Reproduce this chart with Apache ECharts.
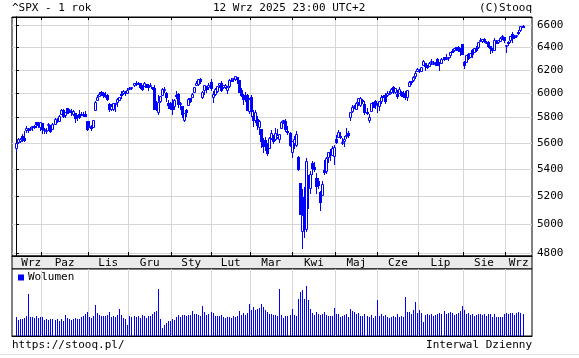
<!DOCTYPE html>
<html><head><meta charset="utf-8">
<script src="https://cdn.jsdelivr.net/npm/echarts@6/dist/echarts.min.js"></script>
<style>html,body{margin:0;padding:0;background:#fff}#c{width:579px;height:358px}</style>
</head><body><div id="c"></div>
<script>
const dates = [
'2024-09-12','2024-09-13','2024-09-16','2024-09-17','2024-09-18','2024-09-19','2024-09-20','2024-09-23','2024-09-24','2024-09-25','2024-09-26','2024-09-27','2024-09-30',
'2024-10-01','2024-10-02','2024-10-03','2024-10-04','2024-10-07','2024-10-08','2024-10-09','2024-10-10','2024-10-11','2024-10-14','2024-10-15','2024-10-16','2024-10-17','2024-10-18','2024-10-21','2024-10-22','2024-10-23','2024-10-24','2024-10-25','2024-10-28','2024-10-29','2024-10-30','2024-10-31',
'2024-11-01','2024-11-04','2024-11-05','2024-11-06','2024-11-07','2024-11-08','2024-11-11','2024-11-12','2024-11-13','2024-11-14','2024-11-15','2024-11-18','2024-11-19','2024-11-20','2024-11-21','2024-11-22','2024-11-25','2024-11-26','2024-11-27','2024-11-29',
'2024-12-02','2024-12-03','2024-12-04','2024-12-05','2024-12-06','2024-12-09','2024-12-10','2024-12-11','2024-12-12','2024-12-13','2024-12-16','2024-12-17','2024-12-18','2024-12-19','2024-12-20','2024-12-23','2024-12-24','2024-12-26','2024-12-27','2024-12-30','2024-12-31',
'2025-01-02','2025-01-03','2025-01-06','2025-01-07','2025-01-08','2025-01-10','2025-01-13','2025-01-14','2025-01-15','2025-01-16','2025-01-17','2025-01-21','2025-01-22','2025-01-23','2025-01-24','2025-01-27','2025-01-28','2025-01-29','2025-01-30','2025-01-31',
'2025-02-03','2025-02-04','2025-02-05','2025-02-06','2025-02-07','2025-02-10','2025-02-11','2025-02-12','2025-02-13','2025-02-14','2025-02-18','2025-02-19','2025-02-20','2025-02-21','2025-02-24','2025-02-25','2025-02-26','2025-02-27','2025-02-28',
'2025-03-03','2025-03-04','2025-03-05','2025-03-06','2025-03-07','2025-03-10','2025-03-11','2025-03-12','2025-03-13','2025-03-14','2025-03-17','2025-03-18','2025-03-19','2025-03-20','2025-03-21','2025-03-24','2025-03-25','2025-03-26','2025-03-27','2025-03-28','2025-03-31',
'2025-04-01','2025-04-02','2025-04-03','2025-04-04','2025-04-07','2025-04-08','2025-04-09','2025-04-10','2025-04-11','2025-04-14','2025-04-15','2025-04-16','2025-04-17','2025-04-21','2025-04-22','2025-04-23','2025-04-24','2025-04-25','2025-04-28','2025-04-29','2025-04-30',
'2025-05-01','2025-05-02','2025-05-05','2025-05-06','2025-05-07','2025-05-08','2025-05-09','2025-05-12','2025-05-13','2025-05-14','2025-05-15','2025-05-16','2025-05-19','2025-05-20','2025-05-21','2025-05-22','2025-05-23','2025-05-27','2025-05-28','2025-05-29','2025-05-30',
'2025-06-02','2025-06-03','2025-06-04','2025-06-05','2025-06-06','2025-06-09','2025-06-10','2025-06-11','2025-06-12','2025-06-13','2025-06-16','2025-06-17','2025-06-18','2025-06-20','2025-06-23','2025-06-24','2025-06-25','2025-06-26','2025-06-27','2025-06-30',
'2025-07-01','2025-07-02','2025-07-03','2025-07-07','2025-07-08','2025-07-09','2025-07-10','2025-07-11','2025-07-14','2025-07-15','2025-07-16','2025-07-17','2025-07-18','2025-07-21','2025-07-22','2025-07-23','2025-07-24','2025-07-25','2025-07-28','2025-07-29','2025-07-30','2025-07-31',
'2025-08-01','2025-08-04','2025-08-05','2025-08-06','2025-08-07','2025-08-08','2025-08-11','2025-08-12','2025-08-13','2025-08-14','2025-08-15','2025-08-18','2025-08-19','2025-08-20','2025-08-21','2025-08-22','2025-08-25','2025-08-26','2025-08-27','2025-08-28','2025-08-29',
'2025-09-02','2025-09-03','2025-09-04','2025-09-05','2025-09-08','2025-09-09','2025-09-10','2025-09-11','2025-09-12'
];
const open = [
5557,5604,5616,5655,5641,5703,5709,5711,5728,5733,5762,5756,5727,
5758,5698,5698,5737,5737,5709,5751,5778,5775,5830,5866,5820,5876,5860,5857,5833,5835,5816,5827,5831,5820,5832,5775,
5723,5725,5723,5864,5947,5977,6008,6003,5985,5989,5912,5871,5874,5914,5924,5945,5992,6000,6014,6004,
6040,6042,6069,6089,6081,6083,6058,6060,6075,6068,6063,6053,6048,5913,5842,5940,5985,6024,6006,5920,5920,
5904,5892,5982,5993,5910,5891,5782,5859,5905,5965,5972,6014,6070,6080,6121,5970,6027,6058,6050,6096,
5969,5998,6021,6073,6086,6050,6049,6026,6060,6116,6122,6118,6134,6114,6027,5982,5971,5982,5857,
5969,5812,5782,5785,5726,5705,5604,5624,5595,5563,5635,5655,5632,5646,5630,5718,5775,5772,5696,5679,5527,
5598,5580,5492,5293,4953,5193,4966,5353,5255,5441,5411,5335,5306,5232,5207,5395,5381,5489,5529,5508,5499,
5626,5645,5655,5605,5613,5663,5679,5808,5854,5886,5870,5930,5902,5945,5910,5842,5781,5855,5925,5939,5903,
5897,5939,5979,5986,5987,6005,6009,6050,6010,5997,6005,6013,5987,6005,5969,6062,6104,6114,6150,6193,
6187,6192,6246,6258,6233,6237,6266,6256,6255,6295,6257,6263,6313,6304,6307,6326,6368,6371,6397,6404,6375,6427,
6269,6272,6336,6316,6375,6359,6389,6398,6461,6454,6476,6446,6447,6407,6385,6374,6457,6441,6457,6489,6489,
6408,6448,6460,6517,6499,6496,6532,6554,6590
];
const high = [
5600,5636,5636,5671,5690,5733,5716,5725,5736,5742,5767,5764,5765,
5758,5720,5718,5753,5739,5757,5797,5796,5823,5871,5870,5846,5878,5872,5867,5863,5835,5818,5862,5843,5848,5850,5776,
5773,5741,5784,5937,5983,6012,6017,6010,6009,5993,5916,5910,5922,5921,5962,5973,6020,6026,6020,6044,
6053,6053,6089,6100,6099,6088,6066,6093,6079,6079,6085,6057,6071,5935,5982,5979,6041,6049,6007,5941,5929,
5949,5950,6022,6001,5927,5891,5840,5872,5960,5964,6006,6052,6101,6119,6128,6017,6070,6063,6087,6121,
6022,6042,6062,6085,6101,6074,6076,6063,6117,6127,6130,6147,6134,6115,6044,5992,6009,5994,5959,
5987,5865,5861,5812,5783,5706,5636,5642,5599,5646,5704,5659,5715,5711,5670,5776,5782,5785,5732,5686,5615,
5651,5695,5500,5293,5247,5267,5481,5353,5381,5460,5450,5368,5328,5233,5310,5469,5489,5528,5554,5572,5581,
5659,5700,5683,5641,5654,5720,5691,5844,5906,5906,5924,5959,5969,5954,5939,5878,5830,5922,5930,5944,5916,
5938,5982,5990,5999,6017,6022,6043,6060,6046,6027,6051,6023,6019,6018,6026,6101,6108,6146,6187,6216,
6211,6228,6284,6263,6242,6270,6290,6274,6271,6302,6270,6304,6316,6336,6316,6360,6381,6390,6398,6409,6390,6428,
6273,6330,6346,6349,6379,6395,6411,6447,6481,6472,6482,6456,6454,6410,6393,6479,6466,6467,6487,6509,6489,
6416,6453,6502,6533,6509,6513,6555,6592,6600
];
const low = [
5535,5601,5605,5614,5615,5687,5683,5701,5704,5716,5721,5727,5703,
5674,5677,5676,5703,5684,5706,5745,5763,5774,5829,5804,5808,5840,5846,5824,5821,5762,5784,5799,5823,5813,5813,5703,
5723,5697,5722,5864,5942,5977,5987,5969,5973,5942,5854,5866,5860,5853,5895,5942,5963,5993,5985,6004,
6033,6034,6061,6074,6079,6042,6026,6058,6051,6030,6059,6035,5868,5866,5832,5926,5983,6008,5933,5880,5869,
5831,5874,5961,5890,5874,5809,5773,5812,5905,5930,5972,6007,6066,6074,6088,5962,5995,6013,6034,6030,
5924,5990,6007,6055,6020,6046,6043,6003,6053,6105,6101,6111,6084,6009,5980,5909,5933,5858,5837,
5810,5732,5762,5711,5667,5565,5529,5547,5505,5563,5633,5598,5622,5641,5603,5718,5760,5696,5670,5572,5489,
5557,5572,5390,5070,4835,4910,4950,5115,5221,5358,5387,5221,5256,5102,5207,5359,5372,5455,5468,5505,5433,
5597,5645,5638,5587,5578,5635,5643,5779,5845,5876,5868,5907,5895,5918,5831,5827,5768,5854,5887,5879,5847,
5862,5919,5966,5921,5979,5996,6003,6003,6003,5964,6005,5974,5966,5952,5943,6059,6080,6106,6132,6186,
6177,6190,6240,6201,6218,6237,6248,6250,6243,6242,6201,6263,6285,6304,6282,6316,6360,6365,6376,6364,6331,6336,
6212,6272,6292,6311,6315,6356,6364,6392,6457,6442,6442,6437,6397,6343,6360,6374,6438,6437,6457,6468,6444,
6360,6417,6447,6443,6478,6493,6522,6545,6578
];
const close = [
5596,5626,5633,5635,5618,5714,5703,5719,5733,5722,5745,5738,5762,
5709,5710,5700,5751,5696,5751,5792,5780,5815,5860,5815,5842,5841,5865,5854,5851,5797,5810,5808,5824,5833,5814,5705,
5729,5713,5783,5929,5973,5996,6001,5984,5985,5949,5871,5894,5917,5917,5949,5969,5987,6022,5999,6032,
6047,6050,6086,6075,6090,6053,6035,6084,6051,6051,6074,6051,5872,5867,5931,5974,6040,6038,5971,5907,5882,
5869,5942,5975,5909,5918,5827,5836,5843,5950,5937,5997,6049,6086,6119,6101,6012,6068,6039,6071,6041,
5995,6038,6061,6084,6026,6066,6069,6052,6115,6115,6130,6144,6118,6013,5983,5955,5956,5862,5955,
5850,5778,5843,5739,5770,5615,5572,5599,5522,5639,5675,5615,5675,5663,5668,5768,5777,5712,5693,5581,5612,
5633,5671,5397,5074,5062,4983,5457,5268,5363,5406,5397,5276,5283,5158,5288,5376,5485,5525,5529,5561,5569,
5604,5687,5650,5607,5631,5664,5660,5844,5887,5893,5917,5958,5964,5940,5845,5842,5803,5922,5889,5912,5912,
5936,5970,5971,5939,6000,6006,6039,6022,6045,5977,6033,5983,5981,5968,6025,6092,6092,6141,6173,6205,
6198,6227,6279,6230,6226,6263,6280,6260,6269,6244,6264,6297,6297,6306,6310,6359,6363,6389,6390,6371,6363,6339,
6238,6330,6299,6345,6340,6389,6373,6446,6467,6469,6450,6449,6411,6396,6370,6467,6439,6466,6481,6502,6460,
6416,6448,6502,6482,6495,6513,6532,6587,6584
];
const volume = [
19,16,17,17,18,20,42,19,19,18,20,18,19,
19,16,17,16,17,17,16,17,15,17,15,21,18,17,16,17,18,17,17,19,20,22,24,
19,18,20,31,23,21,20,20,20,21,24,19,20,19,21,27,21,18,17,11,
20,19,20,19,20,18,21,20,18,20,20,22,24,25,47,17,8,11,13,15,15,
17,16,19,21,19,21,21,20,21,21,25,22,22,21,20,30,24,21,22,24,
23,20,20,20,21,19,18,19,19,18,20,19,20,25,21,23,21,23,32,
26,29,26,27,28,32,29,26,24,22,22,21,21,20,47,21,18,20,20,21,27,
21,20,37,44,46,37,50,36,27,23,21,24,22,21,22,24,21,20,20,20,28,
22,22,19,20,21,22,19,27,25,24,22,23,20,20,22,20,19,21,18,20,36,
20,22,20,21,19,18,19,20,19,22,19,20,19,39,24,24,22,26,34,23,
26,23,14,21,22,21,22,20,21,22,23,22,25,22,23,24,23,21,22,23,25,30,
26,22,23,21,22,20,21,22,22,21,22,20,22,22,19,22,19,19,19,19,22,
23,22,23,23,21,23,24,23,22
];
const priceTicks = [4800,5000,5200,5400,5600,5800,6000,6200,6400,6600];
const monthNames = ['Sty','Lut','Mar','Kwi','Maj','Cze','Lip','Sie','Wrz','Paz','Lis','Gru'];
const titleText = '^SPX - 1 rok';
const dateText = '12 Wrz 2025 23:00 UTC+2';
const copyText = '(C)Stooq';
const urlText = 'https://stooq.pl/';
const intervalText = 'Interwal Dzienny';
const volumeName = 'Wolumen';

// ---- layout ----
const FONT = 'DejaVu Sans Mono';
const BLUE = '#0000ff';
const GRIDC = '#d6d6d6';
const X_MIN = -1.98, X_MAX = 254.68;
const N = dates.length;
const bounds = [];
for (let i = 1; i < N; i++) if (dates[i].slice(0, 7) !== dates[i - 1].slice(0, 7)) bounds.push(i - 0.5);
const segS = [X_MIN].concat(bounds), segE = bounds.concat([X_MAX]);
const labelPos = segS.map((s, k) => k === 0 ? segE[0] - 5 : (s + segE[k]) / 2);
const labelTxt = segS.map((s, k) => monthNames[+dates[k === 0 ? 0 : s + 0.5].slice(5, 7) - 1]);
const fmtMonth = v => { for (let k = 0; k < labelPos.length; k++) if (Math.abs(labelPos[k] - v) < 1e-6) return labelTxt[k]; return ''; };

const candles = dates.map((d, i) => [i, open[i], close[i], low[i], high[i]]);
const vols = volume.map((v, i) => [i, v]);
const txt = {fontFamily: FONT, fontSize: 11, fontWeight: 'normal', color: '#000'};

function renderCandle(params, api) {
  const i = api.value(0);
  const pO = api.coord([i, api.value(1)]);
  const pC = api.coord([i, api.value(2)]);
  const pL = api.coord([i, api.value(3)]);
  const pH = api.coord([i, api.value(4)]);
  const x = Math.round(pO[0]);
  const yO = Math.round(pO[1]), yC = Math.round(pC[1]);
  const yL = Math.round(pL[1]), yH = Math.round(pH[1]);
  const top = Math.min(yO, yC), bot = Math.max(yO, yC);
  const up = api.value(2) > api.value(1);
  const children = [{type: 'line', shape: {x1: x + 0.5, y1: yH, x2: x + 0.5, y2: yL + 1}, style: {stroke: BLUE, lineWidth: 1}}];
  if (up) {
    children.push({type: 'rect', shape: {x: x - 0.5, y: top + 0.5, width: 2, height: Math.max(bot - top, 1)}, style: {fill: '#fff', stroke: BLUE, lineWidth: 1}});
  } else {
    children.push({type: 'rect', shape: {x: x - 1, y: top, width: 3, height: Math.max(bot - top, 1) + 1}, style: {fill: BLUE}});
  }
  return {type: 'group', children: children};
}
function renderVolume(params, api) {
  const top = api.coord([api.value(0), api.value(1)]);
  const base = api.coord([api.value(0), 0]);
  const x = Math.round(top[0]);
  const y = Math.round(top[1]);
  return {type: 'rect', shape: {x: x, y: y, width: 1, height: Math.round(base[1]) - y}, style: {fill: BLUE}};
}

const G_LEFT = 12, G_W = 520, G_RIGHT = 579 - 12 - 520;
const chart = echarts.init(document.getElementById('c'), null, {renderer: 'canvas'});
chart.setOption({
  animation: false,
  backgroundColor: '#fff',
  title: [
    {text: titleText, left: 12, top: 3, padding: 0, textStyle: txt},
    {text: dateText, left: 213, top: 3, padding: 0, textStyle: txt},
    {text: copyText, right: G_RIGHT, top: 3, padding: 0, textStyle: txt},
    {text: urlText, left: 12, top: 340, padding: 0, textStyle: txt},
    {text: intervalText, right: G_RIGHT, top: 340, padding: 0, textStyle: txt}
  ],
  legend: {data: [volumeName], left: 18, top: 272, padding: 0, icon: 'rect', itemWidth: 6, itemHeight: 6,
    itemStyle: {color: BLUE}, textStyle: Object.assign({}, txt, {padding: [0, 0, 0, -1]})},
  grid: [
    {left: G_LEFT, width: G_W, top: 17, height: 239, show: true, borderColor: '#000', borderWidth: 1, backgroundColor: '#fff'},
    {left: G_LEFT, width: G_W, top: 256, height: 13, show: true, borderColor: '#000', borderWidth: 1, backgroundColor: '#ebebeb'},
    {left: G_LEFT, width: G_W, top: 269, height: 67, show: true, borderColor: '#000', borderWidth: 1, backgroundColor: '#fff'}
  ],
  xAxis: [
    {gridIndex: 0, type: 'value', min: X_MIN, max: X_MAX, position: 'bottom',
      axisLine: {show: true, lineStyle: {color: '#000'}},
      axisTick: {show: true, inside: true, length: 4, customValues: bounds, lineStyle: {color: '#000'}},
      axisLabel: {show: true, customValues: labelPos, formatter: fmtMonth, margin: 2, fontFamily: FONT, fontSize: 11, color: '#000', lineHeight: 11},
      splitLine: {show: true, lineStyle: {color: GRIDC}}},
    {gridIndex: 0, type: 'value', min: X_MIN, max: X_MAX, position: 'top',
      axisLine: {show: true, lineStyle: {color: '#000'}},
      axisTick: {show: true, inside: true, length: 3, customValues: bounds, lineStyle: {color: '#000'}},
      axisLabel: {show: false}, splitLine: {show: false}},
    {gridIndex: 1, type: 'value', min: X_MIN, max: X_MAX, show: false},
    {gridIndex: 2, type: 'value', min: X_MIN, max: X_MAX, position: 'bottom',
      axisLine: {show: true, lineStyle: {color: '#000'}},
      axisTick: {show: false, customValues: bounds},
      axisLabel: {show: false},
      splitLine: {show: true, lineStyle: {color: GRIDC}}}
  ],
  yAxis: [
    {gridIndex: 0, type: 'log', min: 4782, max: 6674, position: 'right',
      axisLine: {show: true, lineStyle: {color: '#000'}},
      axisTick: {show: true, inside: false, length: 3, customValues: priceTicks, lineStyle: {color: '#000'}},
      axisLabel: {show: true, customValues: priceTicks, formatter: v => String(Math.round(v)), margin: 5, fontFamily: FONT, fontSize: 11, color: '#000'},
      splitLine: {show: true, lineStyle: {color: GRIDC}}},
    {gridIndex: 0, type: 'log', min: 4782, max: 6674, position: 'left',
      axisLine: {show: true, lineStyle: {color: '#000'}},
      axisTick: {show: true, inside: true, length: 3, customValues: priceTicks, lineStyle: {color: '#000'}},
      axisLabel: {show: false}, splitLine: {show: false}},
    {gridIndex: 1, type: 'value', min: 0, max: 1, show: false},
    {gridIndex: 2, type: 'value', min: 0, max: 67, show: false}
  ],
  series: [
    {type: 'custom', name: '^SPX', xAxisIndex: 0, yAxisIndex: 0, data: candles,
      dimensions: ['idx', 'open', 'close', 'lowest', 'highest'],
      encode: {x: 0, y: [1, 2, 3, 4]}, itemStyle: {color: BLUE}, clip: true,
      renderItem: renderCandle},
    {type: 'custom', name: volumeName, xAxisIndex: 3, yAxisIndex: 3, data: vols,
      encode: {x: 0, y: 1}, itemStyle: {color: BLUE},
      renderItem: renderVolume}
  ],
  graphic: [{type: 'rect', left: 0, top: 354, shape: {width: 579, height: 1}, style: {fill: '#e0e0e0'}, silent: true}]
});
</script></body></html>
